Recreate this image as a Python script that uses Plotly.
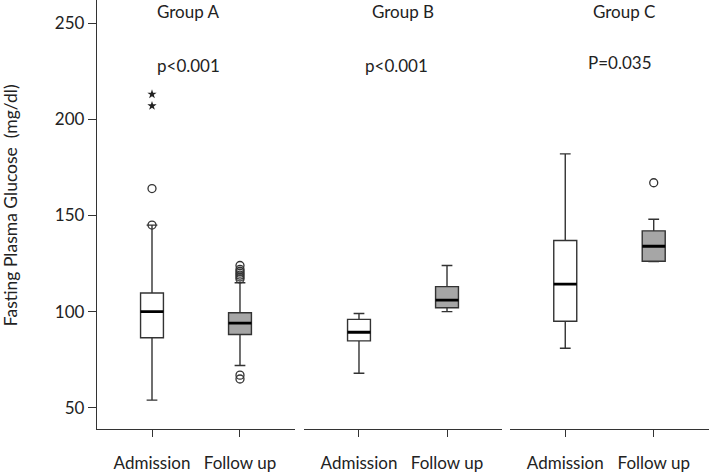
import plotly.graph_objects as go

# ---- data ----
groups = ["Group A", "Group B", "Group C"]
p_values = ["p<0.001", "p<0.001", "P=0.035"]
timepoints = ["Admission", "Follow up"]

admission_lower = [54, 68, 81]
admission_q1 = [86.4, 84.8, 95]
admission_median = [100, 89.3, 114.3]
admission_q3 = [109.7, 96, 137]
admission_upper = [145, 99, 182]
admission_outliers = [[145, 164], [], []]
admission_extremes = [[207, 213], [], []]

followup_lower = [72, 100, 126]
followup_q1 = [88.1, 102, 126.2]
followup_median = [94, 106, 134]
followup_q3 = [99.4, 113, 142]
followup_upper = [115, 124, 148]
followup_outliers = [[117, 118, 119, 120, 121, 122, 124, 67, 65], [], [167]]
followup_extremes = [[], [], []]

# ---- styles ----
FONT = "Lato"
FS = 17
LINE = "#333333"
FILLS = ["#ffffff", "#a6a6a6"]
domains = [[0.0, 0.3235], [0.3382, 0.6618], [0.6748, 1.0]]
title_x = [0.1487, 0.5, 0.8603]
title_y = 0.974
p_x = [0.1487, 0.4894, 0.8538]
p_y = [0.848, 0.848, 0.855]

fig = go.Figure()

series = [
    (admission_lower, admission_q1, admission_median, admission_q3, admission_upper,
     admission_outliers, admission_extremes),
    (followup_lower, followup_q1, followup_median, followup_q3, followup_upper,
     followup_outliers, followup_extremes),
]

for g in range(3):
    xa = "x" if g == 0 else f"x{g+1}"
    ya = "y" if g == 0 else f"y{g+1}"
    for t, (lo, q1, med, q3, up, outs, ext) in enumerate(series):
        fig.add_trace(go.Box(
            x=[t], lowerfence=[lo[g]], q1=[q1[g]], median=[med[g]], q3=[q3[g]],
            upperfence=[up[g]], fillcolor=FILLS[t], width=0.26, whiskerwidth=0.47,
            line=dict(color=LINE, width=1.4), boxpoints=False,
            xaxis=xa, yaxis=ya, showlegend=False, hoverinfo="skip"))
        # thicker median line
        fig.add_trace(go.Box(
            x=[t], lowerfence=[med[g]], q1=[med[g]], median=[med[g]], q3=[med[g]],
            upperfence=[med[g]], fillcolor="rgba(0,0,0,0)", width=0.26, whiskerwidth=0,
            line=dict(color="#000000", width=2.8), boxpoints=False,
            xaxis=xa, yaxis=ya, showlegend=False, hoverinfo="skip"))
        if outs[g]:
            fig.add_trace(go.Scatter(
                x=[t] * len(outs[g]), y=outs[g], mode="markers",
                marker=dict(symbol="circle-open", size=8, color=LINE, line=dict(width=1.3)),
                xaxis=xa, yaxis=ya, showlegend=False, hoverinfo="skip"))
        if ext[g]:
            fig.add_trace(go.Scatter(
                x=[t] * len(ext[g]), y=ext[g], mode="markers",
                marker=dict(symbol="star", size=7, color="#222222"),
                xaxis=xa, yaxis=ya, showlegend=False, hoverinfo="skip"))

layout = dict(
    width=709, height=474,
    margin=dict(l=97, r=0, t=0, b=45),
    paper_bgcolor="white", plot_bgcolor="white",
    boxmode="overlay",
    font=dict(family=FONT, size=FS, color="#222222"),
)
for g in range(3):
    sfx = "" if g == 0 else str(g + 1)
    layout["xaxis" + sfx] = dict(
        domain=domains[g], anchor="y" + sfx, range=[-0.625, 1.625],
        tickmode="array", tickvals=[0, 1], ticktext=timepoints, automargin=False,
        showline=True, linecolor=LINE, linewidth=1.3, ticks="outside",
        ticklen=7, tickcolor=LINE, tickwidth=1.3, showgrid=False, zeroline=False,
        ticklabelstandoff=11, tickfont=dict(family=FONT, size=FS, color="#222222"))
    yax = dict(anchor="x" + sfx, range=[39, 262], showgrid=False, zeroline=False,
               automargin=False)
    if g == 0:
        yax.update(showline=True, linecolor=LINE, linewidth=1.3, ticks="outside",
                   ticklen=8, tickcolor=LINE, tickwidth=1.3,
                   tickvals=[50, 100, 150, 200, 250],
                   tickfont=dict(family=FONT, size=FS, color="#222222"))
    else:
        yax.update(matches="y", showline=False, showticklabels=False, ticks="")
    layout["yaxis" + sfx] = yax

annotations = []
for g in range(3):
    annotations.append(dict(xref="paper", yref="paper", x=title_x[g], y=title_y,
                            text=groups[g], showarrow=False, xanchor="center",
                            yanchor="middle", font=dict(family=FONT, size=FS)))
    annotations.append(dict(xref="paper", yref="paper", x=p_x[g], y=p_y[g],
                            text=p_values[g], showarrow=False, xanchor="center",
                            yanchor="middle", font=dict(family=FONT, size=FS)))
annotations.append(dict(xref="paper", yref="paper", x=-0.142, y=0.522,
                        text="Fasting Plasma Glucose  (mg/dl)", textangle=-90,
                        showarrow=False, xanchor="center", yanchor="middle",
                        font=dict(family=FONT, size=17.5)))
layout["annotations"] = annotations

fig.update_layout(**layout)
fig.write_html("out.html", config={"displayModeBar": False},
               post_script="document.body.style.margin='0px';")
